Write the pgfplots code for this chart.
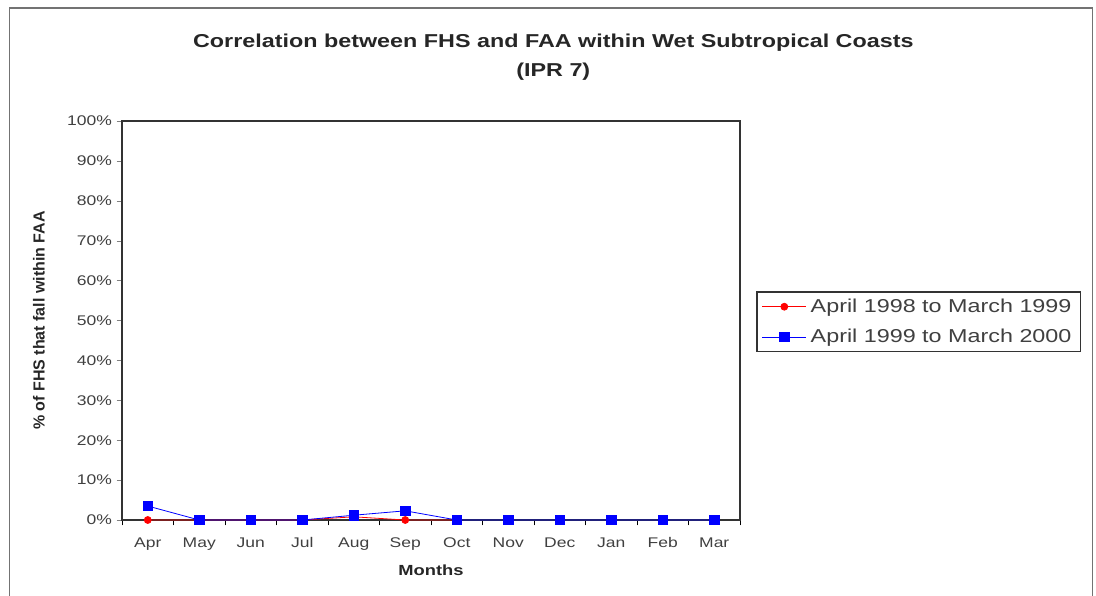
\documentclass[border=0pt]{standalone}
\usepackage{fontspec}
\setmainfont{Liberation Sans}[FakeStretch=1.25]
\newfontfamily\ylabfont{Liberation Sans}
\usepackage{pgfplots}
\pgfplotsset{compat=1.18}
\begin{document}
\begin{tikzpicture}
\useasboundingbox (0,0) rectangle (822pt,-447pt);
\draw[black!55, line width=1.2pt] (7pt,-6pt) rectangle (819.5pt,-490pt);
\node[font=\fontsize{14}{22}\selectfont\bfseries, align=center, text=black!85] at (415pt,-43pt)
  {Correlation between FHS and FAA within Wet Subtropical Coasts\\(IPR 7)};
\begin{axis}[
  at={(91.5pt,-390pt)}, anchor=south west,
  scale only axis, width=463.5pt, height=299.25pt,
  xmin=-0.5, xmax=11.5, ymin=0, ymax=100,
  xtick={0,...,11},
  xticklabels={Apr,May,Jun,Jul,Aug,Sep,Oct,Nov,Dec,Jan,Feb,Mar},
  major x tick style={draw=none},
  minor xtick={-0.5,0.5,...,11.5},
  minor tick length=4pt,
  x tick style={black},
  ytick={0,10,...,100},
  yticklabel={\pgfmathprintnumber{\tick}\%},
  /pgf/number format/assume math mode=true,
  tick align=outside,
  major tick length=4pt,
  tick pos=left,
  axis line style={black!80, line width=0.8pt},
  ticklabel style={font=\fontsize{10.5}{12}\selectfont, text=black!75},
  xticklabel style={yshift=-5pt, text height=1.6ex, text depth=0.3ex},
  xlabel={\bfseries Months},
  xlabel style={font=\fontsize{11}{12}\selectfont, yshift=-4pt, text=black!85},
  ylabel={\ylabfont\bfseries \% of FHS that fall within FAA},
  ylabel style={font=\fontsize{12}{13}\selectfont, yshift=10pt, text=black!85},
  legend style={at={(1.0275,0.5714)}, anchor=north west, name=leg,
    draw=none, fill=white,
    font=\fontsize{14}{16}\selectfont, text=black!75,
    row sep=7pt, inner xsep=3.5pt, inner ysep=3pt,
    nodes={inner xsep=3pt}},
  legend cell align=left,
  legend image code/.code={%
    \draw[mark repeat=2,mark phase=2,#1] plot coordinates {(0cm,0cm) (0.58cm,0cm) (1.16cm,0cm)};},
  clip=false,
]
\addplot[red, line width=0.6pt, mark=*, mark size=2.6pt, mark options={red}]
  coordinates {(0,0) (1,0) (2,0) (3,0) (4,0.8) (5,0) (6,0)};
\addlegendentry{April 1998 to March 1999}
\addplot[blue, line width=0.6pt, mark=square*, mark size=3.6pt, mark options={blue}]
  coordinates {(0,3.5) (1,0) (2,0) (3,0) (4,1.2) (5,2.3) (6,0) (7,0) (8,0) (9,0) (10,0) (11,0)};
\addlegendentry{April 1999 to March 2000}
\end{axis}
\draw[black!80, line width=0.8pt] (leg.south west) rectangle (leg.north east);
\end{tikzpicture}
\end{document}
